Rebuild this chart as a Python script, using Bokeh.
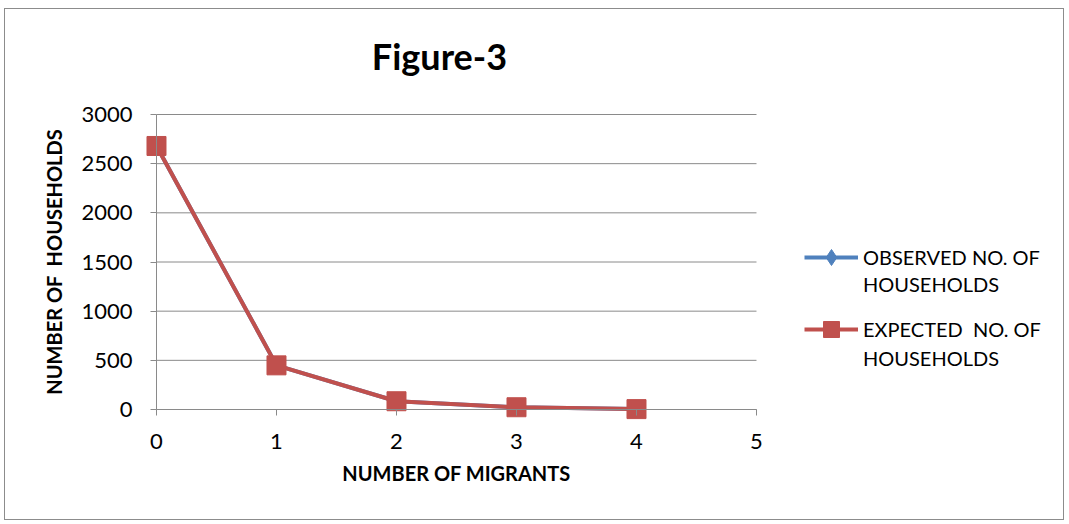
from bokeh.plotting import figure
from bokeh.models import Legend, LegendItem, Label, Range1d, FixedTicker
from bokeh.embed import file_html
from bokeh.resources import INLINE

migrants = [0, 1, 2, 3, 4]
observed = [2680, 449, 84, 23, 4]
expected = [2680, 449, 84, 23, 4]
x_ticks = [0, 1, 2, 3, 4, 5]
y_ticks = [0, 500, 1000, 1500, 2000, 2500, 3000]
title_text = "Figure-3"
x_label = "NUMBER OF MIGRANTS"
y_label = "NUMBER OF\u00a0 HOUSEHOLDS"
obs_label = ["OBSERVED NO. OF", "HOUSEHOLDS"]
exp_label = ["EXPECTED\u00a0 NO. OF", "HOUSEHOLDS"]

FONT = "Lato"
GRID = "#8a8a8a"

# The frame covers the whole canvas; axes are pinned at 0 so nothing is clipped.
p = figure(width=1060, height=512, output_backend="svg", toolbar_location=None,
           x_range=Range1d(-1.225, 7.5417), y_range=Range1d(-1098.3, 3945.8),
           min_border_left=4, min_border_right=4, min_border_top=12, min_border_bottom=4)
p.margin = (8, 0, 0, 4)
p.styles = {"border": "1px solid #8c8c8c"}
p.outline_line_color = None
p.xgrid.visible = False
p.ygrid.visible = False

p.segment(x0=[x_ticks[0]] * len(y_ticks), x1=[x_ticks[-1]] * len(y_ticks),
          y0=y_ticks, y1=y_ticks, line_color=GRID, line_width=1)

p.xaxis.ticker = FixedTicker(ticks=x_ticks)
p.yaxis.ticker = FixedTicker(ticks=y_ticks)
p.xaxis.fixed_location = 0
p.yaxis.fixed_location = 0
p.xaxis.bounds = (x_ticks[0], x_ticks[-1])
p.yaxis.bounds = (y_ticks[0], y_ticks[-1])
for ax in (p.xaxis[0], p.yaxis[0]):
    ax.axis_line_color = GRID
    ax.major_tick_line_color = GRID
    ax.minor_tick_line_color = None
    ax.major_tick_in = 0
    ax.major_tick_out = 6
    ax.major_label_text_font = FONT
    ax.major_label_text_font_size = "22px"
    ax.major_label_text_color = "black"
    ax.axis_label_text_font = FONT
    ax.axis_label_text_font_size = "20px"
    ax.axis_label_text_font_style = "bold"
    ax.axis_label_text_color = "black"
p.xaxis.axis_label = x_label
p.yaxis.axis_label = y_label
p.xaxis.major_label_standoff = 18
p.xaxis.axis_label_standoff = 9
p.yaxis.major_label_standoff = 18
p.yaxis.axis_label_standoff = 12

l1 = p.line(migrants, observed, line_color="#4F81BD", line_width=4)
m1 = p.scatter(migrants, observed, marker="diamond", size=16, color="#4F81BD")
l2 = p.line(migrants, expected, line_color="#C0504D", line_width=4)
m2 = p.scatter(migrants, expected, marker="square", size=19, color="#C0504D")
blank = p.line(x=[], y=[], line_alpha=0)

p.add_layout(Label(x=2.358, y=3590, text=title_text, text_font=FONT, text_font_size="36px",
                   text_font_style="bold", text_color="black",
                   text_align="center", text_baseline="middle"))


def add_legend_line(text, renderers, loc):
    lg = Legend(items=[LegendItem(label=text, renderers=renderers)], location=loc,
                label_text_font=FONT, label_text_font_size="20px", label_text_color="black",
                glyph_width=54, glyph_height=40, spacing=0, border_line_color=None,
                background_fill_alpha=0, label_standoff=5, padding=0, margin=0)
    p.add_layout(lg, "center")


add_legend_line(obs_label[0], [l1, m1], (795, 240))
add_legend_line(obs_label[1], [blank], (795, 213))
add_legend_line(exp_label[0], [l2, m2], (795, 168))
add_legend_line(exp_label[1], [blank], (795, 139))

open("out.html", "w").write(file_html(p, INLINE))
